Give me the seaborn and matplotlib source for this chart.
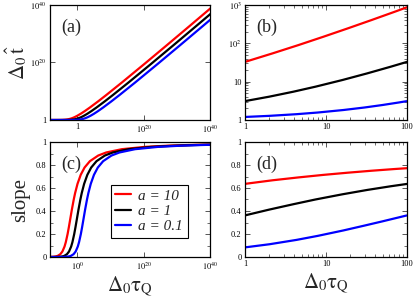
import numpy as np
import pandas as pd
import matplotlib
matplotlib.use("Agg")
import matplotlib.pyplot as plt
import matplotlib.ticker as mticker
import seaborn as sns

# ---------------- data (exponents are log10 values) ----------------
labels = ["a = 10", "a = 1", "a = 0.1"]
colors = ["#ff0000", "#000000", "#0000ff"]

# panels (a) and (c): x = log10(Delta0 tauQ)
red_xlog = [-7.999, -7.202, -6.598, -5.991, -5.182, -4.559, -3.913, -3.518, -2.987, -2.608,
            -2.168, -1.702, -1.131, -0.720, 0.006, 0.967, 2.128, 3.741, 6.264, 8.686,
            13.381, 20.247, 27.012, 33.720, 40.393]
red_tlog = [0.0009, 0.0022, 0.0043, 0.0087, 0.0217, 0.0434, 0.0869, 0.1303, 0.2171, 0.3040,
            0.4343, 0.6080, 0.8686, 1.0857, 1.5200, 2.1715, 3.0401, 4.3429, 6.5144, 8.6859,
            13.0288, 19.5433, 26.0577, 32.5721, 39.0865]
red_slope = [0.0010, 0.0025, 0.0050, 0.0099, 0.0244, 0.0476, 0.0909, 0.1304, 0.2000, 0.2593,
             0.3333, 0.4118, 0.5000, 0.5556, 0.6364, 0.7143, 0.7778, 0.8333, 0.8824, 0.9091,
             0.9375, 0.9574, 0.9677, 0.9740, 0.9783]

black_xlog = [-8.000, -7.204, -6.602, -5.999, -5.202, -4.598, -3.991, -3.182, -2.559, -1.913,
              -1.518, -0.987, -0.608, -0.168, 0.298, 0.869, 1.280, 2.006, 2.967, 4.128,
              5.741, 8.264, 10.686, 15.381, 22.247, 29.012, 35.720, 40.172]
black_tlog = [0.0001, 0.0002, 0.0004, 0.0009, 0.0022, 0.0043, 0.0087, 0.0217, 0.0434, 0.0869,
              0.1303, 0.2171, 0.3040, 0.4343, 0.6080, 0.8686, 1.0857, 1.5200, 2.1715, 3.0401,
              4.3429, 6.5144, 8.6859, 13.0288, 19.5433, 26.0577, 32.5721, 36.9150]
black_slope = [0.0001, 0.0002, 0.0005, 0.0010, 0.0025, 0.0050, 0.0099, 0.0244, 0.0476, 0.0909,
               0.1304, 0.2000, 0.2593, 0.3333, 0.4118, 0.5000, 0.5556, 0.6364, 0.7143, 0.7778,
               0.8333, 0.8824, 0.9091, 0.9375, 0.9574, 0.9677, 0.9740, 0.9770]

blue_xlog = [-8.000, -7.204, -6.602, -6.000, -5.204, -4.602, -3.999, -3.202, -2.598, -1.991,
             -1.182, -0.559, 0.087, 0.482, 1.013, 1.392, 1.832, 2.298, 2.869, 3.280,
             4.006, 4.967, 6.128, 7.741, 10.264, 12.686, 17.381, 24.247, 31.012, 37.720, 40.390]
blue_tlog = [0.00001, 0.00002, 0.00004, 0.0001, 0.0002, 0.0004, 0.0009, 0.0022, 0.0043, 0.0087,
             0.0217, 0.0434, 0.0869, 0.1303, 0.2171, 0.3040, 0.4343, 0.6080, 0.8686, 1.0857,
             1.5200, 2.1715, 3.0401, 4.3429, 6.5144, 8.6859, 13.0288, 19.5433, 26.0577, 32.5721, 35.1778]
blue_slope = [0.00001, 0.00003, 0.00005, 0.0001, 0.0002, 0.0005, 0.0010, 0.0025, 0.0050, 0.0099,
              0.0244, 0.0476, 0.0909, 0.1304, 0.2000, 0.2593, 0.3333, 0.4118, 0.5000, 0.5556,
              0.6364, 0.7143, 0.7778, 0.8333, 0.8824, 0.9091, 0.9375, 0.9574, 0.9677, 0.9740, 0.9759]

# panels (b) and (d): zoom 1 <= Delta0 tauQ <= 100
red_z_xlog = [0.000, 0.339, 0.659, 0.967, 1.267, 1.560, 1.847, 2.016]
red_z_t = [32.8, 54.6, 90.0, 148.4, 244.7, 403.4, 665.1, 897.8]
red_z_slope = [0.636, 0.667, 0.692, 0.714, 0.733, 0.750, 0.765, 0.773]

black_z_xlog = [-0.005, 0.298, 0.597, 0.869, 1.201, 1.508, 1.798, 2.006]
black_z_t = [3.096, 4.055, 5.474, 7.389, 11.02, 16.44, 24.53, 33.1]
black_z_slope = [0.361, 0.412, 0.459, 0.500, 0.545, 0.583, 0.615, 0.636]

blue_z_xlog = [-0.003, 0.303, 0.638, 0.900, 1.215, 1.474, 1.697, 1.896, 1.995]
blue_z_t = [1.1996, 1.284, 1.419, 1.568, 1.822, 2.117, 2.460, 2.858, 3.096]
blue_z_slope = [0.0834, 0.111, 0.149, 0.184, 0.231, 0.273, 0.310, 0.344, 0.361]

# ---------------- tables ----------------
def table(xs, ys):
    frames = []
    for lab, x, y in zip(labels, xs, ys):
        frames.append(pd.DataFrame({"x": np.power(10.0, np.array(x)), "y": np.array(y, dtype=float),
                                    "a": lab}))
    return pd.concat(frames, ignore_index=True)

df_a = table([red_xlog, black_xlog, blue_xlog],
             [np.power(10.0, red_tlog), np.power(10.0, black_tlog), np.power(10.0, blue_tlog)])
df_c = table([red_xlog, black_xlog, blue_xlog], [red_slope, black_slope, blue_slope])
df_b = table([red_z_xlog, black_z_xlog, blue_z_xlog], [red_z_t, black_z_t, blue_z_t])
df_d = table([red_z_xlog, black_z_xlog, blue_z_xlog], [red_z_slope, black_z_slope, blue_z_slope])

# ---------------- style ----------------
sns.set_style("ticks")
plt.rcParams["font.family"] = ["Liberation Serif", "DejaVu Serif"]
plt.rcParams["mathtext.fontset"] = "stix"
plt.rcParams["axes.linewidth"] = 0.9
plt.rcParams["axes.edgecolor"] = "black"

W, H = 415, 301
fig = plt.figure(figsize=(W / 100, H / 100), dpi=100)
fig.patch.set_facecolor("white")

def ax_at(l, t, r, b):
    return fig.add_axes([l / W, 1 - b / H, (r - l) / W, (b - t) / H])

ax_a = ax_at(50, 5, 210, 120)
ax_b = ax_at(245, 5, 407, 120)
ax_c = ax_at(50, 142, 210, 257)
ax_d = ax_at(245, 142, 407, 257)

pal = dict(zip(labels, colors))
for ax, df in [(ax_a, df_a), (ax_b, df_b), (ax_c, df_c), (ax_d, df_d)]:
    sns.lineplot(data=df, x="x", y="y", hue="a", palette=pal, sort=False, estimator=None,
                 linewidth=1.6, ax=ax, legend=(ax is ax_c))
    ax.set_xlabel("")
    ax.set_ylabel("")
    ax.set_xscale("log")
    ax.tick_params(which="both", direction="in", top=True, right=True, colors="black",
                   labelsize=6, pad=2.5)
    ax.tick_params(which="major", length=3.5, width=0.7, color="#555555")
    ax.tick_params(which="minor", length=2, width=0.6, color="#555555")
    for s in ax.spines.values():
        s.set_color("black")

xlab = r"$\Delta_0\mathrm{\tau}_{\mathrm{Q}}$"

# panel (a)
ax_a.set_yscale("log")
ax_a.set_xlim(10.0 ** -8.3, 1e40)
ax_a.set_ylim(1, 1e40)
ax_a.xaxis.set_major_locator(mticker.FixedLocator([1, 1e20, 1e40]))
ax_a.xaxis.set_minor_locator(mticker.NullLocator())
ax_a.set_xticklabels(["1", r"$10^{20}$", r"$10^{40}$"])
ax_a.yaxis.set_major_locator(mticker.FixedLocator([1, 1e20, 1e40]))
ax_a.yaxis.set_minor_locator(mticker.NullLocator())
ax_a.set_yticklabels(["1", r"$10^{20}$", r"$10^{40}$"])
ax_a.set_ylabel(r"$\Delta_0\,\hat{\mathrm{t}}$", fontsize=15, labelpad=1)

# panel (c)
ax_c.set_xlim(10.0 ** -8.3, 1e40)
ax_c.set_ylim(0, 1)
ax_c.xaxis.set_major_locator(mticker.FixedLocator([1, 1e20, 1e40]))
ax_c.xaxis.set_minor_locator(mticker.NullLocator())
ax_c.set_xticklabels([r"$10^{0}$", r"$10^{20}$", r"$10^{40}$"])
ax_c.yaxis.set_major_locator(mticker.MultipleLocator(0.2))
ax_c.yaxis.set_minor_locator(mticker.MultipleLocator(0.1))
fmt01 = mticker.FuncFormatter(lambda v, p: "0" if abs(v) < 1e-9 else ("1" if abs(v - 1) < 1e-9 else f"{v:.1f}"))
ax_c.yaxis.set_major_formatter(fmt01)
ax_c.set_ylabel("slope", fontsize=15, labelpad=4)
ax_c.set_xlabel(xlab, fontsize=15, labelpad=2)

# panel (b)
ax_b.set_yscale("log")
ax_b.set_xlim(1, 100)
ax_b.set_ylim(1, 1000)
ax_b.xaxis.set_major_locator(mticker.FixedLocator([1, 10, 100]))
ax_b.xaxis.set_minor_locator(mticker.LogLocator(base=10, subs=np.arange(2, 10)))
ax_b.xaxis.set_minor_formatter(mticker.NullFormatter())
ax_b.set_xticklabels(["1", "10", "100"])
ax_b.yaxis.set_major_locator(mticker.FixedLocator([1, 10, 100, 1000]))
ax_b.yaxis.set_minor_locator(mticker.LogLocator(base=10, subs=np.arange(2, 10)))
ax_b.yaxis.set_minor_formatter(mticker.NullFormatter())
ax_b.set_yticklabels(["1", "10", r"$10^{2}$", r"$10^{3}$"])

# panel (d)
ax_d.set_xlim(1, 100)
ax_d.set_ylim(0, 1)
ax_d.xaxis.set_major_locator(mticker.FixedLocator([1, 10, 100]))
ax_d.xaxis.set_minor_locator(mticker.LogLocator(base=10, subs=np.arange(2, 10)))
ax_d.xaxis.set_minor_formatter(mticker.NullFormatter())
ax_d.set_xticklabels(["1", "10", "100"])
ax_d.yaxis.set_major_locator(mticker.MultipleLocator(0.2))
ax_d.yaxis.set_minor_locator(mticker.MultipleLocator(0.1))
ax_d.yaxis.set_major_formatter(fmt01)
ax_d.set_xlabel(xlab, fontsize=15, labelpad=2)

# panel labels
for ax, t in [(ax_a, "(a)"), (ax_b, "(b)"), (ax_c, "(c)"), (ax_d, "(d)")]:
    ax.text(0.07, 0.88, t, transform=ax.transAxes, fontsize=13, va="top", ha="left")

# legend
leg = ax_c.legend(loc="upper left", bbox_to_anchor=(0.38, 0.63), frameon=True, fancybox=False,
                  prop={"family": "Liberation Serif", "style": "italic", "size": 11},
                  handlelength=1.0, handletextpad=0.5, labelspacing=0.1, borderpad=0.3,
                  borderaxespad=0)
leg.get_frame().set_edgecolor("black")
leg.get_frame().set_linewidth(0.8)
leg.get_frame().set_alpha(1)
for h in leg.get_lines():
    h.set_linewidth(1.6)

fig.savefig("out.png", dpi=100, facecolor="white")
